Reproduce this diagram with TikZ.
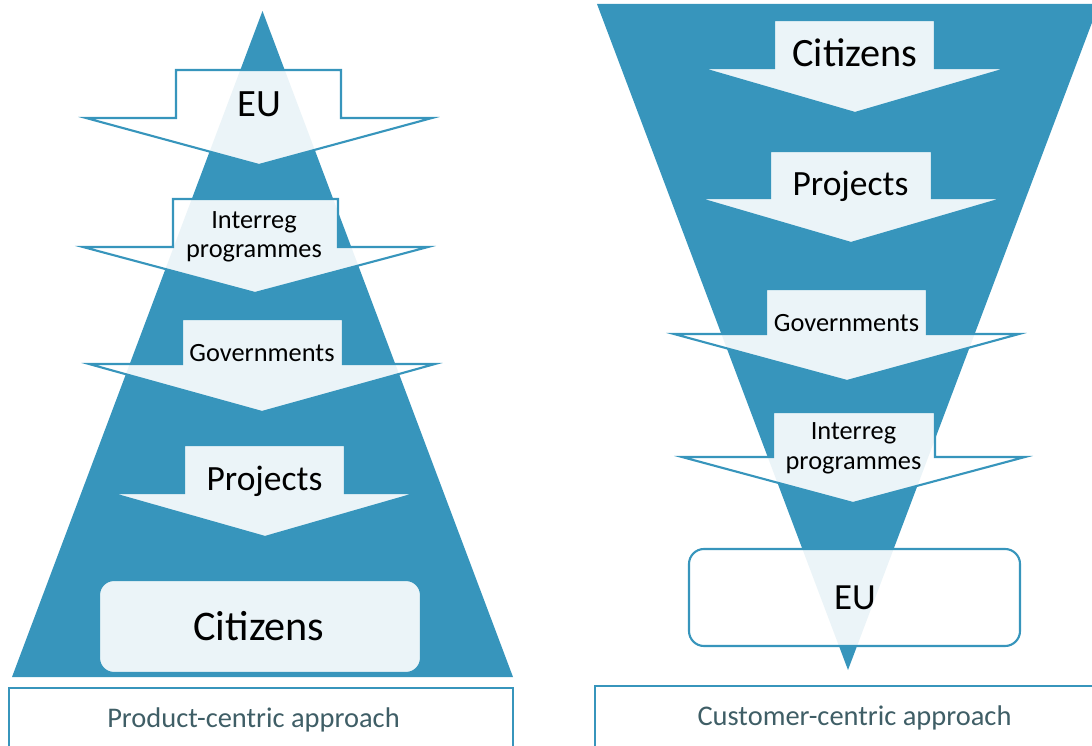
\documentclass[tikz,border=0pt]{standalone}
\usepackage{fontspec}
\setmainfont{Carlito}
\usetikzlibrary{positioning}
\definecolor{tri}{HTML}{3795BC}
\definecolor{lab}{HTML}{3F5E66}
\tikzstyle{myArrow} = [draw=tri, line width=1.2pt, fill=white, fill opacity=0.9]
\tikzstyle{myBox} = [draw=tri, line width=1.2pt, fill=white, fill opacity=0.9, rounded corners=0.3cm]
\tikzstyle{myFrame} = [draw=tri, line width=1.2pt]
\tikzstyle{word} = [anchor=base, inner sep=0pt, text=black, align=center]
% shaft left, shaft right, shaft top, head top, head left, head right, tip x, tip y
\newcommand{\downArrow}[8]{\draw[myArrow] (#1,#3) -- (#2,#3) -- (#2,#4) -- (#6,#4) -- (#7,#8) -- (#5,#4) -- (#1,#4) -- cycle;}

\begin{document}
\begin{tikzpicture}[x=0.02cm, y=-0.02cm]
	\useasboundingbox (0,0) rectangle (1092,746);

	% product-centric
	\fill[tri] (262.5,11) -- (513,677) -- (12,677) -- cycle;
	\downArrow{176}{341}{70}{118}{86}{432}{259}{165}
	\downArrow{173}{338}{199}{247}{83}{428}{255}{293}
	\downArrow{182}{343}{319}{364}{89}{435}{262}{412}
	\downArrow{184}{345}{445}{493}{110}{418}{265}{537}
	\draw[myBox] (99,580) rectangle (421,673);
	\draw[myFrame] (9,770) -- (9,688) -- (513,688) -- (513,770);

	\node [word,font=\fontsize{22}{26}\selectfont] (l1) at (259,117) {EU};
	\node [word,font=\fontsize{15}{17}\selectfont] (l2) at (254,258) {Interreg\\programmes};
	\node [word,font=\fontsize{15}{18}\selectfont] (l3) at (262,362) {Governments};
	\node [word,font=\fontsize{20.2}{24}\selectfont] (l4) at (264.5,490) {Projects};
	\node [word,font=\fontsize{24}{29}\selectfont] (l5) at (259,640) {Citizens};
	\node [word,text=lab,font=\fontsize{16.2}{19}\selectfont] (l6) at (253.5,727) {Product-centric approach};

	% customer-centric
	\fill[tri] (597,4) -- (1099,4) -- (848,670) -- cycle;
	\downArrow{774}{935}{20}{68}{700}{1009}{855}{113}
	\downArrow{770}{932}{151}{198}{697}{1005}{851}{243}
	\downArrow{766}{927}{289}{334}{674}{1019}{847}{381}
	\downArrow{773}{935}{412}{457}{682}{1025}{853}{503}
	\draw[myBox] (689,549) rectangle (1020,646);
	\draw[myFrame] (595,770) -- (595,686) -- (1100,686);

	\node [word,font=\fontsize{22.9}{27}\selectfont] (r1) at (855,67) {Citizens};
	\node [word,font=\fontsize{20.2}{24}\selectfont] (r2) at (850.5,196) {Projects};
	\node [word,font=\fontsize{15}{18}\selectfont] (r3) at (846.5,332) {Governments};
	\node [word,font=\fontsize{15}{17}\selectfont] (r4) at (853.5,469) {Interreg\\programmes};
	\node [word,font=\fontsize{21}{25}\selectfont] (r5) at (855,609) {EU};
	\node [word,text=lab,font=\fontsize{16.2}{19}\selectfont] (r6) at (854.5,725) {Customer-centric approach};
\end{tikzpicture}
\end{document}
